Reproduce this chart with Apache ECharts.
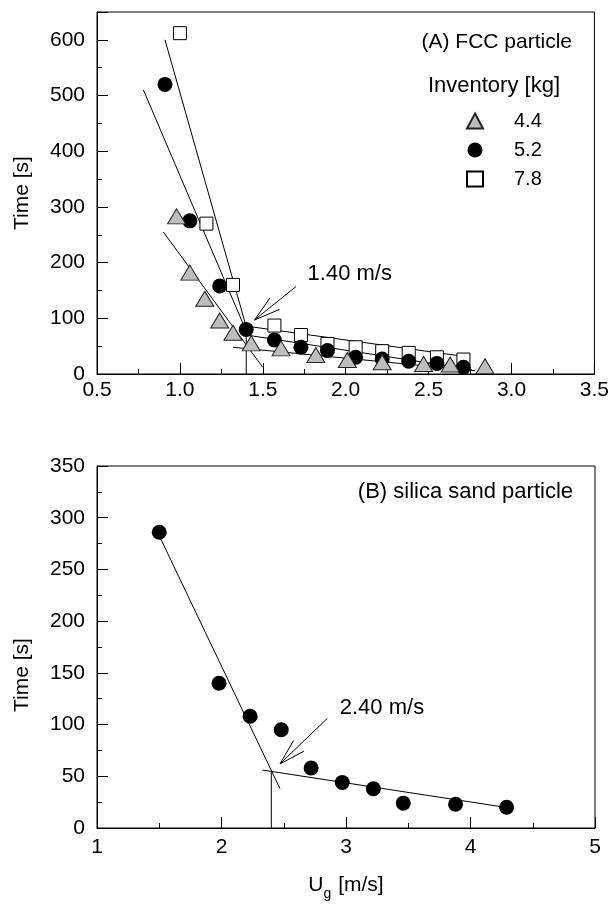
<!DOCTYPE html>
<html><head><meta charset="utf-8">
<script src="https://cdn.jsdelivr.net/npm/echarts@6/dist/echarts.min.js"></script>
<style>html,body{margin:0;padding:0;background:#fff}#c{width:612px;height:905px}</style>
</head><body><div id="c"></div>
<script>
// ---- Panel A: FCC particle ----
const xTri = [0.98, 1.06, 1.15, 1.24, 1.32, 1.43, 1.61, 1.82, 2.01, 2.22, 2.47, 2.63, 2.84];
const yTri = [283, 182, 135, 96, 74, 55, 46, 34, 25, 21, 18, 17, 14];
const xCir = [0.91, 1.06, 1.24, 1.40, 1.57, 1.73, 1.89, 2.06, 2.22, 2.38, 2.55, 2.71];
const yCir = [520, 275, 158, 80, 61, 48, 42, 30, 27, 23, 19, 12];
const xSq  = [1.00, 1.16, 1.32, 1.57, 1.73, 1.89, 2.06, 2.22, 2.38, 2.55, 2.71];
const ySq  = [612, 270, 160, 87, 70, 54, 48, 41, 38, 30, 26];
const fitA = [
  [[0.91, 600], [1.40, 85]],
  [[0.78, 510], [1.41, 70]],
  [[0.90, 255], [1.50, 12]],
  [[1.40, 86], [2.75, 30]],
  [[1.40, 70], [2.76, 8]],
  [[1.32, 48], [2.78, 6]],
  [[1.40, 0], [1.40, 82]]
];
const arrowA = [[1.70, 157, 1.45, 97, 1.77, 179]];
const arrowALabel = ['1.40 m/s'];
const legendNames = ['4.4', '5.2', '7.8'];

// ---- Panel B: silica sand ----
const xB = [1.50, 1.98, 2.23, 2.48, 2.72, 2.97, 3.22, 3.46, 3.88, 4.29];
const yB = [286, 140, 108, 95, 58, 44, 38, 24, 23, 20];
const fitB = [
  [[1.51, 280], [2.47, 38]],
  [[2.33, 56], [4.28, 20]],
  [[2.40, 0], [2.40, 55]]
];
const arrowB = [[2.85, 106, 2.47, 62, 2.95, 116]];
const arrowBLabel = ['2.40 m/s'];

const FONT = '"Liberation Sans", Arial, sans-serif';
const zip = (a, b) => a.map((v, i) => [v, b[i]]);

function axisCommon(extra) {
  return Object.assign({
    type: 'value',
    axisLine: { show: true, onZero: false, lineStyle: { color: '#000', width: 1 } },
    axisTick: { show: true, inside: true, length: 11, lineStyle: { color: '#000', width: 1 } },
    minorTick: { show: true, splitNumber: 2, length: 5, lineStyle: { color: '#000', width: 1 } },
    splitLine: { show: false },
    minorSplitLine: { show: false },
    axisLabel: { color: '#000', fontSize: 21, fontFamily: FONT }
  }, extra);
}

function arrowSeries(xi, yi, data, labels) {
  return {
    type: 'custom', xAxisIndex: xi, yAxisIndex: yi, z: 5, silent: true,
    data: data,
    renderItem: function (params, api) {
      const t = api.coord([api.value(0), api.value(1)]);
      const h = api.coord([api.value(2), api.value(3)]);
      const p = api.coord([api.value(4), api.value(5)]);
      const ang = Math.atan2(t[1] - h[1], t[0] - h[0]);
      const L = 27, a = 16 * Math.PI / 180;
      const b1 = [h[0] + L * Math.cos(ang + a), h[1] + L * Math.sin(ang + a)];
      const b2 = [h[0] + L * Math.cos(ang - a), h[1] + L * Math.sin(ang - a)];
      const st = { stroke: '#000', lineWidth: 1 };
      return { type: 'group', children: [
        { type: 'line', shape: { x1: t[0], y1: t[1], x2: h[0], y2: h[1] }, style: st },
        { type: 'line', shape: { x1: h[0], y1: h[1], x2: b1[0], y2: b1[1] }, style: st },
        { type: 'line', shape: { x1: h[0], y1: h[1], x2: b2[0], y2: b2[1] }, style: st },
        { type: 'text', x: p[0], y: p[1], style: { text: labels[params.dataIndex], fill: '#000', font: '22px ' + FONT, textAlign: 'left', textVerticalAlign: 'middle' } }
      ] };
    }
  };
}

const series = [];
fitA.forEach(seg => series.push({ type: 'line', xAxisIndex: 0, yAxisIndex: 0, data: seg, symbol: 'none', silent: true, z: 1,
  lineStyle: { color: '#000', width: 1 } }));
series.push({ name: legendNames[2], type: 'scatter', xAxisIndex: 0, yAxisIndex: 0, z: 2, data: zip(xSq, ySq),
  symbol: 'rect', symbolSize: 13, itemStyle: { color: '#fff', borderColor: '#000', borderWidth: 1, opacity: 1 } });
series.push({ name: legendNames[1], type: 'scatter', xAxisIndex: 0, yAxisIndex: 0, z: 3, data: zip(xCir, yCir),
  symbol: 'circle', symbolSize: 15, itemStyle: { color: '#000', opacity: 1 } });
series.push({ name: legendNames[0], type: 'scatter', xAxisIndex: 0, yAxisIndex: 0, z: 4, data: zip(xTri, yTri),
  symbol: 'triangle', symbolSize: [18, 15], itemStyle: { color: '#bdbdbd', borderColor: '#222', borderWidth: 1, opacity: 1 } });
series.push(arrowSeries(0, 0, arrowA, arrowALabel));

fitB.forEach(seg => series.push({ type: 'line', xAxisIndex: 1, yAxisIndex: 2, data: seg, symbol: 'none', silent: true, z: 1,
  lineStyle: { color: '#000', width: 1 } }));
series.push({ name: 'silica', type: 'scatter', xAxisIndex: 1, yAxisIndex: 2, z: 3, data: zip(xB, yB),
  symbol: 'circle', symbolSize: 15, itemStyle: { color: '#000', opacity: 1 } });
series.push(arrowSeries(1, 2, arrowB, arrowBLabel));

const option = {
  animation: false,
  backgroundColor: '#fff',
  textStyle: { fontFamily: FONT },
  grid: [
    { left: 97, right: 17, top: 12, height: 362, show: true, borderColor: '#000', borderWidth: 1, backgroundColor: 'transparent' },
    { left: 97, right: 17, top: 466, height: 362, show: true, borderColor: '#000', borderWidth: 1, backgroundColor: 'transparent' }
  ],
  xAxis: [
    axisCommon({ gridIndex: 0, min: 0.5, max: 3.5, interval: 0.5,
      axisLabel: { color: '#000', fontSize: 21, fontFamily: FONT, margin: 6, formatter: v => v.toFixed(1) } }),
    axisCommon({ gridIndex: 1, min: 1, max: 5, interval: 1,
      axisLabel: { color: '#000', fontSize: 21, fontFamily: FONT, margin: 9 } })
  ],
  yAxis: [
    axisCommon({ gridIndex: 0, min: 0, max: 650, interval: 100, minorTick: { show: false },
      axisLabel: { color: '#000', fontSize: 21, fontFamily: FONT, margin: 12, formatter: v => (v > 600 ? '' : String(v)) } }),
    { type: 'value', gridIndex: 0, min: 0, max: 650, interval: 50, position: 'left',
      axisLine: { show: false }, axisLabel: { show: false }, splitLine: { show: false },
      axisTick: { show: true, inside: true, length: 5, lineStyle: { color: '#000', width: 1 } } },
    axisCommon({ gridIndex: 1, min: 0, max: 350, interval: 50,
      axisLabel: { color: '#000', fontSize: 21, fontFamily: FONT, margin: 12 } })
  ],
  legend: {
    data: legendNames, orient: 'vertical', left: 461, top: 104,
    itemWidth: 16, itemHeight: 15, itemGap: 5, selectedMode: false,
    textStyle: { color: '#000', fontSize: 20, fontFamily: FONT, lineHeight: 24, padding: [0, 0, 0, 26] }
  },
  graphic: [
    { type: 'text', x: 572, y: 42, style: { text: '(A) FCC particle', font: '21px ' + FONT, fill: '#000', textAlign: 'right', textVerticalAlign: 'middle' } },
    { type: 'text', x: 560, y: 86, style: { text: 'Inventory [kg]', font: '22px ' + FONT, fill: '#000', textAlign: 'right', textVerticalAlign: 'middle' } },
    { type: 'text', x: 573, y: 492, style: { text: '(B) silica sand particle', font: '22px ' + FONT, fill: '#000', textAlign: 'right', textVerticalAlign: 'middle' } },
    { type: 'text', x: 22, y: 193, rotation: Math.PI / 2, style: { text: 'Time [s]', font: '21px ' + FONT, fill: '#000', textAlign: 'center', textVerticalAlign: 'middle' } },
    { type: 'text', x: 22, y: 675, rotation: Math.PI / 2, style: { text: 'Time [s]', font: '21px ' + FONT, fill: '#000', textAlign: 'center', textVerticalAlign: 'middle' } },
    { type: 'text', x: 346, y: 875, style: {
      text: '{u|U}{g|g}{u| [m/s]}', textAlign: 'center', textVerticalAlign: 'top', fill: '#000',
      rich: {
        u: { fontSize: 21, fontFamily: FONT, lineHeight: 22, verticalAlign: 'top', fill: '#000' },
        g: { fontSize: 14, fontFamily: FONT, lineHeight: 14, padding: [12, 1, 0, 0], verticalAlign: 'top', fill: '#000' }
      } } }
  ],
  series: series
};
echarts.init(document.getElementById('c'), null, { renderer: 'canvas' }).setOption(option);
</script>
</body></html>
